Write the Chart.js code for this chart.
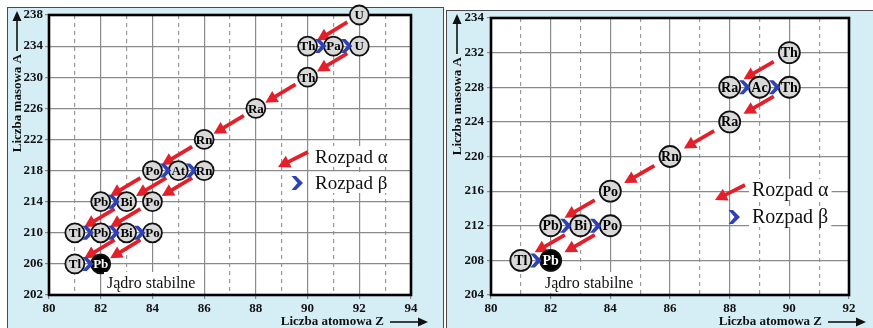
<!DOCTYPE html>
<html lang="pl">
<head>
<meta charset="utf-8">
<title>Szeregi promieniotwórcze</title>
<script src="https://cdn.jsdelivr.net/npm/chart.js@4.4.1/dist/chart.umd.min.js"></script>
<style>
  html, body { margin: 0; padding: 0; background: #fff; }
  body { width: 873px; height: 328px; position: relative; overflow: hidden; }
  .panel { position: absolute; background: #d5edf5; border: 1px solid #4a4a4a; border-bottom: none; box-sizing: border-box; }
  #panel-left { left: 7px; top: 7px; width: 437px; height: 321px; }
  #panel-right { left: 446px; top: 10px; width: 430px; height: 318px; }
  canvas { position: absolute; top: 0; }
  #chart-left { left: 0; }
  #chart-right { left: 440px; }
</style>
</head>
<body>
<div class="panel" id="panel-left"></div>
<div class="panel" id="panel-right"></div>
<canvas id="chart-left" width="440" height="328"></canvas>
<canvas id="chart-right" width="433" height="328"></canvas>
<script>
/* ---- U-238 series (left panel) ---- */
const uSymbols = ['U', 'Th', 'Pa', 'U', 'Th', 'Ra', 'Rn', 'Po', 'At', 'Rn', 'Pb', 'Bi', 'Po', 'Tl', 'Pb', 'Bi', 'Po', 'Tl', 'Pb'];
const uZ       = [92, 90, 91, 92, 90, 88, 86, 84, 85, 86, 82, 83, 84, 81, 82, 83, 84, 81, 82];
const uA       = [238, 234, 234, 234, 230, 226, 222, 218, 218, 218, 214, 214, 214, 210, 210, 210, 210, 206, 206];
const uStable  = 18;
const uAlphaFrom = [0, 3, 4, 5, 6, 7, 8, 9, 11, 12, 15, 16];
const uAlphaTo   = [1, 4, 5, 6, 7, 10, 11, 12, 13, 14, 17, 18];
const uBetaFrom  = [1, 2, 7, 8, 10, 13, 14, 15, 17];
const uBetaTo    = [2, 3, 8, 9, 11, 14, 15, 16, 18];
const uXLabels = [80, 82, 84, 86, 88, 90, 92, 94];
const uYLabels = ['202', '206', '210', '214', '218', '222', '226', '230', '234', '238'];

/* ---- Th-232 series (right panel) ---- */
const thSymbols = ['Th', 'Ra', 'Ac', 'Th', 'Ra', 'Rn', 'Po', 'Pb', 'Bi', 'Po', 'Tl', 'Pb'];
const thZ       = [90, 88, 89, 90, 88, 86, 84, 82, 83, 84, 81, 82];
const thA       = [232, 228, 228, 228, 224, 220, 216, 212, 212, 212, 208, 208];
const thStable  = 11;
const thAlphaFrom = [0, 3, 4, 5, 6, 8, 9];
const thAlphaTo   = [1, 4, 5, 6, 7, 10, 11];
const thBetaFrom  = [1, 2, 7, 8, 10];
const thBetaTo    = [2, 3, 8, 9, 11];
const thXLabels = [80, 82, 84, 86, 88, 90, 92];
// top tick is printed as 234 in the original figure
const thYLabels = ['204', '208', '212', '216', '220', '224', '228', '232', '234'];

const RED = '#e3202a', BLUE = '#2e42b6';
const SERIF = '"Liberation Serif", "Times New Roman", Times, serif';
Chart.defaults.font.family = SERIF;
Chart.defaults.color = '#111';

/* ---- drawing helpers ---- */
function arrow(ctx, sx, sy, ex, ey, width, head, half, color) {
  const len = Math.hypot(ex - sx, ey - sy);
  const ux = (ex - sx) / len, uy = (ey - sy) / len;
  const bx = ex - ux * head, by = ey - uy * head;
  ctx.save();
  ctx.strokeStyle = color; ctx.fillStyle = color; ctx.lineWidth = width;
  ctx.beginPath(); ctx.moveTo(sx, sy); ctx.lineTo(bx + ux, by + uy); ctx.stroke();
  ctx.beginPath();
  ctx.moveTo(ex, ey);
  ctx.lineTo(bx - uy * half, by + ux * half);
  ctx.lineTo(bx + uy * half, by - ux * half);
  ctx.closePath(); ctx.fill();
  ctx.restore();
}

function chevron(ctx, cx, cy) {
  ctx.save();
  ctx.fillStyle = BLUE;
  ctx.beginPath();
  ctx.moveTo(cx - 5.5, cy - 7);
  ctx.lineTo(cx - 1, cy - 7);
  ctx.lineTo(cx + 6, cy);
  ctx.lineTo(cx - 1, cy + 7);
  ctx.lineTo(cx - 5.5, cy + 7);
  ctx.lineTo(cx + 0.5, cy);
  ctx.closePath(); ctx.fill();
  ctx.restore();
}

function boxedText(ctx, txt, x, y, font) {
  ctx.save();
  ctx.font = font;
  ctx.textAlign = 'left'; ctx.textBaseline = 'middle';
  const w = ctx.measureText(txt).width;
  ctx.fillStyle = '#fff';
  ctx.fillRect(x - 3, y - 11, w + 6, 21);
  ctx.fillStyle = '#111';
  ctx.fillText(txt, x, y + 1);
  ctx.restore();
}

function decayPlugin(s) {
  return {
    id: 'decay-' + s.id,
    beforeDraw(chart) {
      const { ctx, chartArea: a } = chart;
      ctx.save();
      ctx.fillStyle = '#fff';
      ctx.fillRect(a.left, a.top, a.width, a.height);
      ctx.restore();
    },
    beforeDatasetsDraw(chart) {
      const { ctx, chartArea: a, scales: { x, y } } = chart;
      ctx.save();
      ctx.strokeStyle = '#000'; ctx.lineWidth = 2.6;
      ctx.strokeRect(a.left, a.top, a.width, a.height);
      ctx.restore();
      // alpha decays: parent -> daughter (Z-2, A-4)
      s.alphaFrom.forEach((p, k) => {
        const d = s.alphaTo[k];
        const x1 = x.getPixelForValue(s.Z[p]), y1 = y.getPixelForValue(s.A[p]);
        const x2 = x.getPixelForValue(s.Z[d]), y2 = y.getPixelForValue(s.A[d]);
        const len = Math.hypot(x2 - x1, y2 - y1);
        const ux = (x2 - x1) / len, uy = (y2 - y1) / len;
        arrow(ctx, x1 + ux * s.cutStart, y1 + uy * s.cutStart,
              x2 - ux * s.cutEnd, y2 - uy * s.cutEnd, 3.8, 12, 6.5, RED);
      });
    },
    afterDatasetsDraw(chart) {
      const { ctx, chartArea: a, scales: { x, y } } = chart;
      // symbols in circles
      ctx.save();
      ctx.font = `bold ${s.labelSize}px ${SERIF}`;
      ctx.textAlign = 'center'; ctx.textBaseline = 'middle';
      s.symbols.forEach((sym, i) => {
        ctx.fillStyle = i === s.stable ? '#fff' : '#000';
        ctx.fillText(sym, x.getPixelForValue(s.Z[i]), y.getPixelForValue(s.A[i]) + 1);
      });
      ctx.restore();
      // beta decays: chevron between neighbours
      s.betaFrom.forEach((p, k) => {
        const d = s.betaTo[k];
        chevron(ctx, x.getPixelForValue((s.Z[p] + s.Z[d]) / 2), y.getPixelForValue(s.A[p]));
      });
      // legend
      const L = s.legend;
      boxedText(ctx, 'Rozpad α', L.x, L.yA, `${L.size}px ${SERIF}`);
      boxedText(ctx, 'Rozpad β', L.x, L.yB, `${L.size}px ${SERIF}`);
      arrow(ctx, L.x - 7, L.yA - 5, L.x - 37, L.yA + 10, 3.8, 12, 6.5, RED);
      chevron(ctx, L.x - 18, L.yB);
      // stable nucleus caption
      boxedText(ctx, 'Jądro stabilne', s.stableText.x, s.stableText.y, `16px ${SERIF}`);
      // axis titles with arrows
      ctx.save();
      ctx.fillStyle = '#111'; ctx.font = `bold 13px ${SERIF}`;
      ctx.textBaseline = 'middle';
      ctx.textAlign = 'right';
      ctx.fillText('Liczba atomowa Z', a.right - 27, a.bottom + 27);
      ctx.translate(a.left - s.yTitleGap, a.top + 39);
      ctx.rotate(-Math.PI / 2);
      ctx.textAlign = 'right';
      ctx.fillText('Liczba masowa A', 0, 1);
      ctx.restore();
      arrow(ctx, a.right - 21, a.bottom + 27, a.right + 17, a.bottom + 27, 1.6, 10, 4.5, '#111');
      arrow(ctx, a.left - s.yTitleGap, a.top + 36, a.left - s.yTitleGap, a.top - 4, 1.6, 10, 4.5, '#111');
    }
  };
}

function buildChart(s) {
  const pts = s.Z.map((z, i) => ({ x: z, y: s.A[i] }));
  return new Chart(document.getElementById(s.id), {
    type: 'scatter',
    data: {
      datasets: [{
        data: pts,
        pointRadius: s.r,
        pointHoverRadius: s.r,
        pointBackgroundColor: s.symbols.map((_, i) => i === s.stable ? '#000' : '#d9d9d9'),
        pointBorderColor: '#111',
        pointBorderWidth: 1.8,
        clip: false
      }]
    },
    options: {
      responsive: false, animation: false, events: [],
      layout: { padding: { top: s.padTop, right: s.padRight, left: 0, bottom: 0 }, autoPadding: false },
      plugins: { legend: { display: false }, tooltip: { enabled: false } },
      scales: {
        x: {
          type: 'linear', min: s.xMin, max: s.xMax,
          afterFit: sc => { sc.height = 33; },
          ticks: {
            stepSize: 1, autoSkip: false, maxRotation: 0, padding: 2,
            color: '#111', font: { size: 13, weight: 'bold' },
            callback: v => s.xLabels.includes(v) ? String(v) : ''
          },
          grid: {
            color: c => (c.tick && c.tick.value % 2) ? '#9a9a9a' : '#8a8a8a',
            lineWidth: 1.2, tickLength: 4,
            tickColor: c => (c.tick && c.tick.value % 2) ? 'rgba(0,0,0,0)' : '#8a8a8a'
          },
          border: { display: false, dash: c => (c.tick && c.tick.value % 2) ? [4, 4] : [] }
        },
        y: {
          type: 'linear', min: s.yMin, max: s.yMax,
          afterFit: sc => { sc.width = s.yWidth; },
          ticks: {
            stepSize: 4, autoSkip: false, padding: s.yPad,
            color: '#111', font: { size: 13, weight: 'bold' },
            callback: (v, i) => s.yLabels[i]
          },
          grid: { color: '#8a8a8a', lineWidth: 1.2, tickLength: 4, tickColor: '#8a8a8a' },
          border: { display: false }
        }
      }
    },
    plugins: [decayPlugin(s)]
  });
}

buildChart({
  id: 'chart-left', symbols: uSymbols, Z: uZ, A: uA, stable: uStable,
  alphaFrom: uAlphaFrom, alphaTo: uAlphaTo, betaFrom: uBetaFrom, betaTo: uBetaTo,
  xLabels: uXLabels, yLabels: uYLabels, xMin: 80, xMax: 94, yMin: 202, yMax: 238,
  r: 9.5, labelSize: 13, cutStart: 14, cutEnd: 11,
  padTop: 15, padRight: 29, yWidth: 49, yPad: 2, yTitleGap: 32,
  legend: { x: 315, yA: 157, yB: 183, size: 19 },
  stableText: { x: 107, y: 283 }
});

buildChart({
  id: 'chart-right', symbols: thSymbols, Z: thZ, A: thA, stable: thStable,
  alphaFrom: thAlphaFrom, alphaTo: thAlphaTo, betaFrom: thBetaFrom, betaTo: thBetaTo,
  xLabels: thXLabels, yLabels: thYLabels, xMin: 80, xMax: 92, yMin: 204, yMax: 236,
  r: 10.5, labelSize: 14, cutStart: 18, cutEnd: 16,
  padTop: 18, padRight: 24, yWidth: 51, yPad: 3, yTitleGap: 34,
  legend: { x: 312, yA: 190, yB: 217, size: 20 },
  stableText: { x: 105, y: 283 }
});
</script>
</body>
</html>
